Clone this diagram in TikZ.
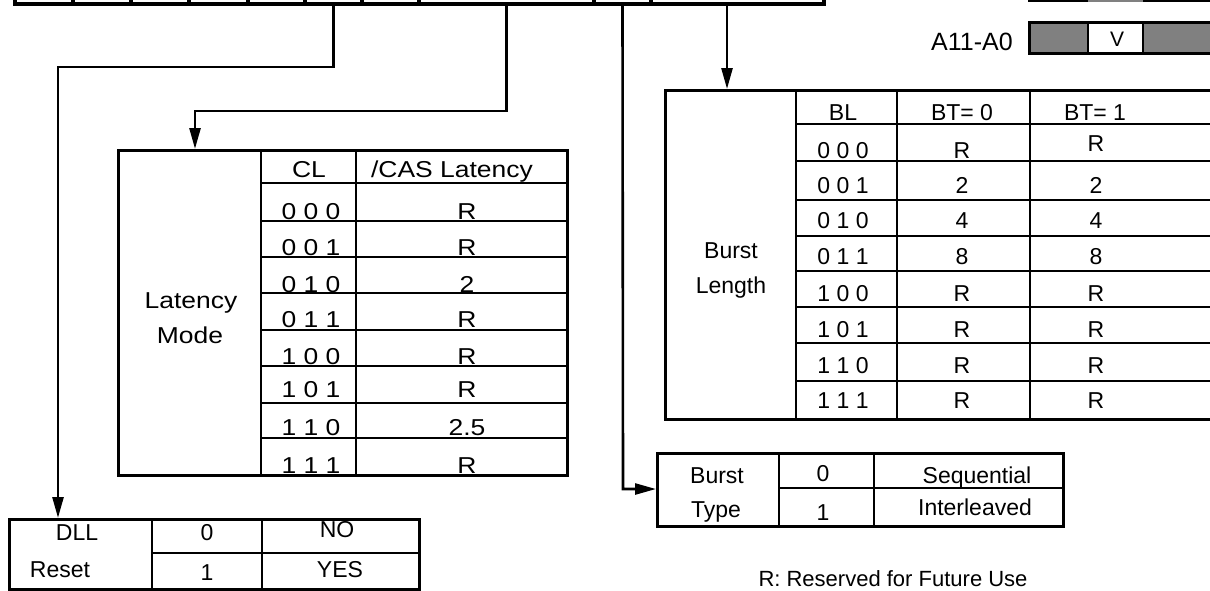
\documentclass[tikz,border=0pt]{standalone}
\usepackage{fontspec}
\setmainfont{Liberation Sans}
\newfontfamily\widefont[FakeStretch=1.15]{Liberation Sans}
\usetikzlibrary{arrows.meta}
\begin{document}
\begin{tikzpicture}[x=1pt,y=-1pt,
  txt/.style={font=\fontsize{23}{27}\selectfont, inner sep=0pt, anchor=base},
  wtxt/.style={font=\widefont\fontsize{23}{27}\selectfont, inner sep=0pt, anchor=base},
  frame/.style={draw, line width=3.2pt, inner sep=0pt, anchor=north west},
  gridl/.style={line width=2pt},
  reg/.style={draw, line width=3.5pt, inner sep=0pt, minimum height=34pt},
  conn/.style={line width=2.6pt},
  arr/.style={conn, -{Triangle[length=21pt,width=11pt]}},
]
\useasboundingbox (0,0) rectangle (1210,590);
\clip (0,0) rectangle (1210,590);

% ---- register (top, mostly off page)
\node[reg, minimum width=58pt] (r1) at (44,-13) {};
\node[reg, minimum width=58pt] (r2) at (102,-13) {};
\node[reg, minimum width=58pt] (r3) at (160,-13) {};
\node[reg, minimum width=59pt] (r4) at (218.5,-13) {};
\node[reg, minimum width=57pt] (r5) at (276.5,-13) {};
\node[reg, minimum width=57pt] (r6) at (333.5,-13) {};
\node[reg, minimum width=57pt] (r7) at (390.5,-13) {};
\node[reg, minimum width=175pt] (r8) at (506.5,-13) {};
\node[reg, minimum width=57pt] (r9) at (622.5,-13) {};
\node[reg, minimum width=173pt] (r10) at (737.5,-13) {};
\coordinate (r10out) at (727,4);

% ---- top right fragment
\draw[line width=3.5pt] (1028,0) -- (1088,0);
\draw[line width=3.5pt, gray] (1088,0) -- (1143,0);
\draw[line width=3.5pt] (1143,0) -- (1215,0);
\node[font=\fontsize{25}{29}\selectfont, inner sep=0pt, anchor=base] (alab) at (972,50) {A11-A0};
\fill[gray] (1028,21) rectangle (1088,52);
\fill[gray] (1143,21) rectangle (1220,52);
\node[font=\fontsize{21}{25}\selectfont, inner sep=0pt, anchor=base] (vlab) at (1117,46) {V};
\draw[line width=2pt] (1088,21) -- (1088,52);
\draw[line width=2pt] (1143,21) -- (1143,52);
\node[frame, minimum width=192pt, minimum height=31pt] (abox) at (1028,21) {};

% ---- Latency mode table
\node[wtxt] (lm1) at (191,308) {Latency};
\node[wtxt] (lm2) at (190,343) {Mode};
\node[wtxt] (lmh1) at (309,177) {CL};
\node[wtxt] (lmh2) at (452,177) {/CAS Latency};
\foreach \y/\a/\b [count=\i] in {219/0 0 0/R,255/0 0 1/R,292/0 1 0/2,327/0 1 1/R,364/1 0 0/R,397/1 0 1/R,435/1 1 0/2.5,473/1 1 1/R}{
  \node[wtxt] (lmc\i) at (311,\y) {\a};
  \node[wtxt] (lmv\i) at (467,\y) {\b};
}
\draw[gridl] (261,149) -- (261,474) (356,149) -- (356,474);
\foreach \y in {183,221,257,293,330,366,403,438}{
  \draw[gridl] (261,\y) -- (566,\y);
}
\node[frame, minimum width=449pt, minimum height=325pt] (lat) at (117,149) {};

% ---- Burst length table
\node[txt] (bl1) at (731,258) {Burst};
\node[txt] (bl2) at (731,293) {Length};
\node[txt] (blh1) at (843,120) {BL};
\node[txt] (blh2) at (962,120) {BT= 0};
\node[txt] (blh3) at (1095,120) {BT= 1};
\foreach \y/\yy/\a/\b/\c [count=\i] in {158/151/0 0 0/R/R,193/193/0 0 1/2/2,228/228/0 1 0/4/4,264/264/0 1 1/8/8,301/301/1 0 0/R/R,337/337/1 0 1/R/R,373/373/1 1 0/R/R,408/408/1 1 1/R/R}{
  \node[txt] (blc\i) at (843,\y) {\a};
  \node[txt] (blz\i) at (962,\y) {\b};
  \node[txt] (blo\i) at (1096,\yy) {\c};
}
\draw[gridl] (796,89) -- (796,418) (897,89) -- (897,418) (1030,89) -- (1030,418);
\foreach \y in {124,161,200,236,271,307,343,381}{
  \draw[gridl] (796,\y) -- (1225,\y);
}
\node[frame, minimum width=570pt, minimum height=329pt] (blen) at (664,89) {};

% ---- Burst type table
\node[txt] (bt1) at (717,483) {Burst};
\node[txt] (bt2) at (716,517) {Type};
\node[txt] (bt3) at (823,481) {0};
\node[txt] (bt4) at (823,520) {1};
\node[txt] (bt5) at (977,483) {Sequential};
\node[txt] (bt6) at (975,515) {Interleaved};
\draw[gridl] (779,452) -- (779,525) (874,452) -- (874,525) (779,488) -- (1062,488);
\node[frame, minimum width=406pt, minimum height=73pt] (btype) at (656,452) {};

% ---- DLL reset table
\node[txt] (dl1) at (77,540) {DLL};
\node[txt] (dl2) at (60,577) {Reset};
\node[txt] (dl3) at (207,540) {0};
\node[txt] (dl4) at (207,580) {1};
\node[txt] (dl5) at (337,537) {NO};
\node[txt] (dl6) at (340,577) {YES};
\draw[gridl] (152,518) -- (152,588) (262,518) -- (262,588) (152,553) -- (418,553);
\node[frame, minimum width=410pt, minimum height=70pt] (dll) at (8,518) {};

% ---- note
\node[font=\fontsize{22}{26}\selectfont, inner sep=0pt, anchor=base] (note) at (893,586) {R: Reserved for Future Use};

% ---- connectors
\coordinate (c1) at (58,67);
\coordinate (c2) at (195,111);
\coordinate (c3) at (623,489);
\draw[arr] (r6.south) |- (c1) -- (c1 |- dll.north);
\draw[arr] (r8.south) |- (c2) -- (c2 |- lat.north);
\draw[arr] (r9.south) -- (c3) -- (c3 -| btype.west);
\draw[arr] (r10out) -- (r10out |- blen.north);
\end{tikzpicture}
\end{document}
